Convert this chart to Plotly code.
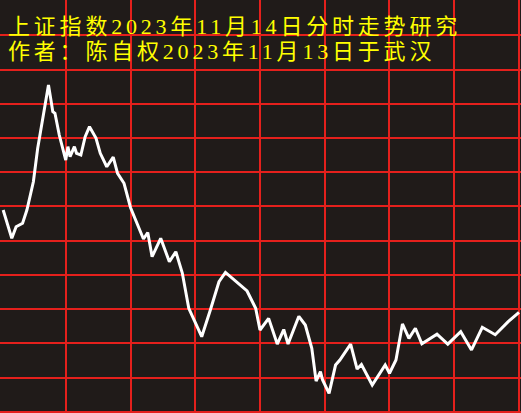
import plotly.graph_objects as go

# minute index within the trading day (0..240) and index level
minutes = [1, 5, 7, 10, 12, 15, 17, 20, 21, 22, 23, 24, 25, 27, 30, 31, 32, 34, 35, 37,
           39, 41, 44, 46, 49, 52, 54, 57, 60, 63, 66, 68, 70, 74, 78, 81, 84, 87, 90, 93,
           97, 101, 104, 108, 114, 118, 120, 124, 128, 131, 133, 138, 141, 144, 146, 148, 149, 152, 155, 157,
           162, 165, 167, 172, 178, 180, 183, 186, 189, 192, 195, 202, 207, 213, 218, 223, 229, 235, 240]
values = [3047.69, 3045.21, 3046.23, 3046.53, 3047.69, 3050.17, 3053.10, 3056.60, 3057.77, 3058.64,
          3057.48, 3056.30, 3056.16, 3054.26, 3052.07, 3053.24, 3052.36, 3053.24, 3052.66, 3052.51,
          3054.11, 3054.99, 3054.00, 3052.66, 3051.48, 3052.33, 3050.91, 3050.03, 3047.91, 3046.53,
          3045.15, 3045.72, 3043.60, 3045.21, 3043.16, 3044.04, 3042.17, 3039.08, 3037.77, 3036.59,
          3038.93, 3041.41, 3042.22, 3041.59, 3040.60, 3039.08, 3037.18, 3038.20, 3035.95, 3037.22,
          3035.95, 3038.38, 3037.62, 3035.58, 3032.71, 3033.53, 3032.80, 3031.63, 3034.11, 3034.55,
          3035.95, 3033.76, 3034.16, 3032.36, 3034.11, 3033.39, 3034.55, 3037.71, 3036.45, 3037.33,
          3035.98, 3036.81, 3035.94, 3037.03, 3035.43, 3037.42, 3036.77, 3037.91, 3038.73]

title_lines = ["上证指数2023年11月14日分时走势研究", "作者：陈自权2023年11月13日于武汉"]

BG = "#201b19"
GRID = "#e4201c"

fig = go.Figure()
fig.add_trace(go.Scatter(x=minutes, y=values, mode="lines",
                         line=dict(color="#ffffff", width=3), hoverinfo="skip"))

fig.update_layout(
    width=521, height=413,
    margin=dict(l=0, r=0, t=0, b=0),
    paper_bgcolor=BG, plot_bgcolor=BG,
    showlegend=False,
    xaxis=dict(range=[-0.463, 240.93], tickmode="linear", tick0=0, dtick=30,
               showgrid=True, gridcolor=GRID, gridwidth=1.5, showticklabels=False,
               zeroline=False, showline=False, ticks=""),
    yaxis=dict(range=[3029.91, 3066.0876], tickmode="linear", tick0=3030, dtick=3,
               showgrid=True, gridcolor=GRID, gridwidth=1.5, showticklabels=False,
               zeroline=False, showline=False, ticks=""),
)

title_text = "<br>".join(
    '<span style="font-size:22px;letter-spacing:3.8px">%s</span>' % t for t in title_lines)
fig.add_annotation(text=title_text, xref="paper", yref="paper", x=6 / 521, y=1 - 12 / 413,
                   xanchor="left", yanchor="top", align="left", showarrow=False,
                   font=dict(family="Liberation Serif, Noto Sans CJK SC", size=19.2,
                             color="#ffff00"))

fig.write_html("out.html", config={"displayModeBar": False},
               post_script="document.body.style.margin='0';")
